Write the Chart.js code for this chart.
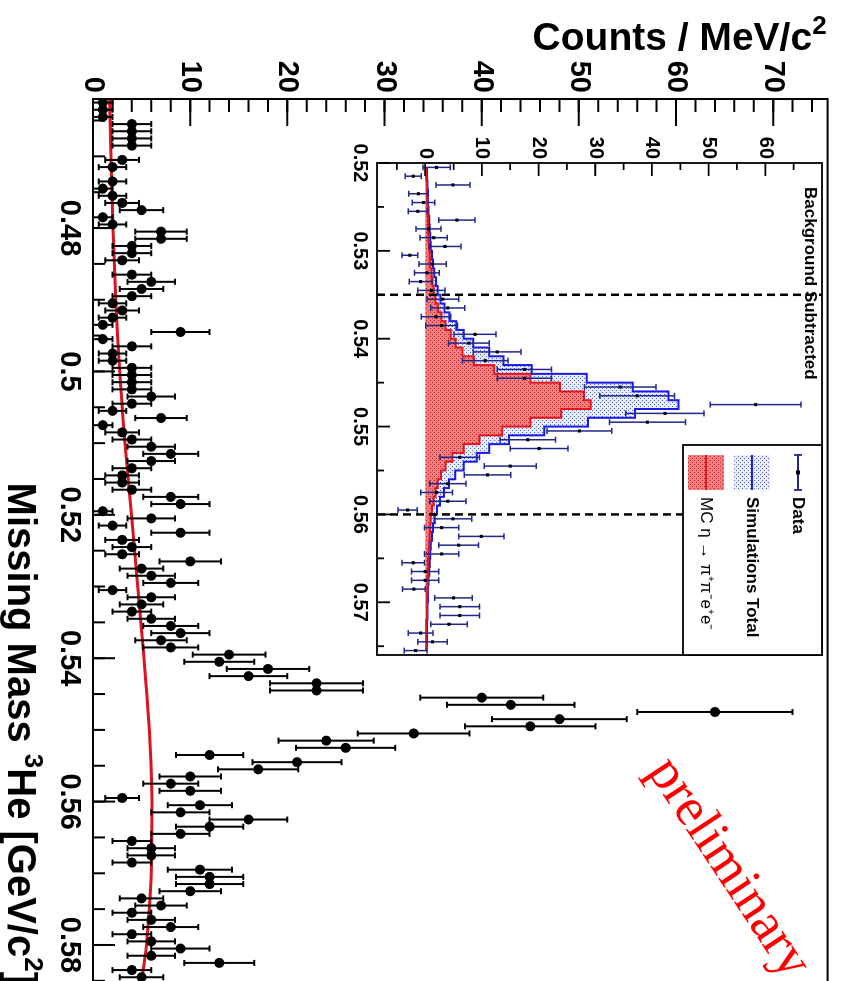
<!DOCTYPE html>
<html>
<head>
<meta charset="utf-8">
<script src="https://cdn.jsdelivr.net/npm/chart.js@4.4.0/dist/chart.umd.min.js"></script>
<style>
html, body { margin: 0; padding: 0; background: #fff; overflow: hidden; width: 851px; height: 981px; }
/* the ROOT plot is drawn upright and then turned a quarter clockwise */
#turn { position: absolute; left: 851px; top: 0; width: 1000px; height: 851px; transform-origin: 0 0; transform: rotate(90deg); }
#main { position: absolute; left: 0; top: 0; }
#inset { position: absolute; left: 100px; top: 0; }
</style>
</head>
<body>
<div id="turn">
  <canvas id="main" width="1000" height="851"></canvas>
  <canvas id="inset" width="580" height="520"></canvas>
</div>
<script>
// Main histogram, 1 MeV bins starting at 0.462 GeV (0 = empty bin, not drawn)
var binLow = 0.462;
var binWidth = 0.001;
var counts = [1, 1, 1,
  4, 4, 4, 4, 0, 3, 2, 0, 2, 1,
  2, 3, 5, 1, 2, 7, 7, 4, 4, 3,
  0, 4, 6, 5, 4, 2, 3, 2, 1, 9,
  1, 4, 2, 2, 4, 4, 4, 4, 6, 4,
  2, 7, 1, 3, 4, 6, 8, 6, 4, 3,
  3, 4, 8, 9, 1, 6, 2, 9, 3, 4,
  3, 10, 5, 6, 8, 2, 6, 5, 4, 6,
  8, 9, 7, 8, 14, 13, 18, 16, 23, 23,
  40, 43, 64, 48, 45, 33, 24, 26, 12, 21,
  17, 10, 8, 10, 3, 11, 9, 16, 12, 9,
  4, 6, 6, 4, 11, 12, 12, 10, 5, 7,
  4, 6, 8, 4, 6, 9, 6, 13, 4, 5];

// background fit (red curve)
var fitMass   = [0.462, 0.470, 0.480, 0.490, 0.500, 0.510, 0.520, 0.530, 0.540, 0.550, 0.560, 0.570, 0.575, 0.580, 0.586];
var fitCounts = [1.70,  1.85,  2.05,  2.35,  2.75,  3.30,  3.95,  4.60,  5.25,  5.80,  6.08,  6.00,  5.80,  5.50,  4.90];

var massTicks = [0.48, 0.50, 0.52, 0.54, 0.56, 0.58];
var massTickLabels = ["0.48", "0.5", "0.52", "0.54", "0.56", "0.58"];
var countTicks = [0, 10, 20, 30, 40, 50, 60, 70];

// Inset: background subtracted, 1 MeV bins starting at 0.520 GeV
var insetLow = 0.520;
var insetCounts = [2.0, -2.1, 4.9, -1.2, -0.3, -1.3, 5.6, 0.6, 1.5, 3.5,
  -2.7, 1.3, 0.3, -0.8, 1.1, 3.1, 4.0, 1.9, 2.9, 8.8,
  7.7, 12.7, 10.6, 17.5, 17.5, 34.4, 37.4, 58.3, 42.3, 39.2,
  27.2, 18.1, 20.1, 6.1, 15.0, 11.0, 4.0, 2.0, 4.0, -3.1,
  4.9, 2.9, 9.9, 5.9, 2.9, -2.1, 0.0, 0.0, -2.0, 5.0,
  6.1, 6.1, 4.2, -0.8, 1.3, -1.7];
var insetErrors = [2.4, 1.4, 3.0, 1.7, 2.0, 1.7, 3.2, 2.2, 2.4, 2.8,
  1.4, 2.4, 2.2, 2.0, 2.4, 2.8, 3.0, 2.6, 2.8, 3.7,
  3.6, 4.2, 4.0, 4.8, 4.8, 6.3, 6.6, 8.0, 6.9, 6.7,
  5.7, 4.9, 5.1, 3.5, 4.6, 4.1, 3.2, 2.8, 3.2, 1.7,
  3.3, 3.0, 4.0, 3.5, 3.0, 2.0, 2.4, 2.4, 2.0, 3.3,
  3.5, 3.5, 3.2, 2.2, 2.6, 2.0];
var insetSimTotal = [0.3, 0.3, 0.4, 0.5, 0.5, 0.6, 0.7, 0.8, 0.9, 1.0,
  1.2, 1.4, 1.6, 1.9, 2.2, 2.7, 3.4, 4.3, 5.5, 6.8,
  8.5, 11.3, 13.8, 18.8, 28.5, 36.6, 42.9, 44.7, 37.0, 28.7,
  21.0, 14.8, 11.3, 9.1, 6.8, 5.3, 4.2, 3.3, 2.6, 2.1,
  1.7, 1.4, 1.2, 1.0, 0.9, 0.8, 0.7, 0.6, 0.5, 0.5,
  0.4, 0.4, 0.3, 0.3, 0.3, 0.2];
var insetMC = [0.2, 0.2, 0.3, 0.3, 0.4, 0.4, 0.5, 0.5, 0.6, 0.7,
  0.8, 0.9, 1.1, 1.3, 1.5, 1.8, 2.3, 2.9, 3.6, 4.5,
  5.4, 6.6, 8.6, 12.2, 18.6, 23.8, 28.0, 29.2, 24.0, 18.6,
  13.6, 9.6, 6.8, 4.8, 3.6, 2.8, 2.2, 1.8, 1.5, 1.2,
  1.0, 0.9, 0.8, 0.7, 0.6, 0.5, 0.5, 0.4, 0.4, 0.3,
  0.3, 0.3, 0.2, 0.2, 0.2, 0.2];
var insetMassTicks = [0.52, 0.53, 0.54, 0.55, 0.56, 0.57];
var insetCountTicks = [0, 10, 20, 30, 40, 50, 60];
var cutLines = [0.535, 0.560];

var sans = "'Liberation Sans', Arial, sans-serif";
var fitRed = "#d9141e";

// --- points -------------------------------------------------------------
var dataPoints = [];
for (var i = 0; i < counts.length; i++) {
  if (counts[i] > 0) dataPoints.push({x: binLow + (i + 0.5) * binWidth, y: counts[i]});
}
var fitPoints = fitMass.map(function(m, k) { return {x: m, y: fitCounts[k]}; });

function insetPts(arr) {
  return arr.map(function(v, k) { return {x: insetLow + (k + 0.5) * binWidth, y: v}; });
}

function stepValues(from, to, step) {
  var out = [];
  for (var v = from; v <= to + 1e-9; v += step) out.push(+v.toFixed(4));
  return out;
}

// text made of runs, some of them raised as superscripts (ROOT #it{^{2}} style)
function drawRuns(c, runs, x, y, size, align) {
  var big = "bold " + size + "px " + sans, small = "bold " + Math.round(size * 0.66) + "px " + sans;
  var total = 0;
  runs.forEach(function(r) { c.font = r.sup ? small : big; total += c.measureText(r.t).width; });
  var pos = align === "right" ? x - total : x;
  c.textAlign = "left"; c.textBaseline = "alphabetic";
  runs.forEach(function(r) {
    c.font = r.sup ? small : big;
    c.fillText(r.t, pos, r.sup ? y - size * 0.42 : y);
    pos += c.measureText(r.t).width;
  });
}

// ROOT style ticks pointing into the frame
function innerTicks(chart, values, len, axis) {
  var c = chart.ctx, a = chart.chartArea;
  c.beginPath();
  values.forEach(function(v) {
    if (axis === "x") {
      var px = chart.scales.x.getPixelForValue(v);
      if (px < a.left - 0.5 || px > a.right + 0.5) return;
      c.moveTo(px, a.bottom); c.lineTo(px, a.bottom - len);
    } else {
      var py = chart.scales.y.getPixelForValue(v);
      if (py < a.top - 0.5 || py > a.bottom + 0.5) return;
      c.moveTo(a.left, py); c.lineTo(a.left + len, py);
    }
  });
  c.stroke();
}

function errorBars(chart, pts, errs, color, width, cap) {
  var c = chart.ctx, xs = chart.scales.x, ys = chart.scales.y;
  c.save();
  c.strokeStyle = color; c.lineWidth = width;
  pts.forEach(function(p, k) {
    var e = errs ? errs[k] : Math.sqrt(p.y);
    var px = xs.getPixelForValue(p.x);
    var y1 = ys.getPixelForValue(p.y - e), y2 = ys.getPixelForValue(p.y + e);
    c.beginPath();
    c.moveTo(px, y1); c.lineTo(px, y2);
    c.moveTo(px - cap, y1); c.lineTo(px + cap, y1);
    c.moveTo(px - cap, y2); c.lineTo(px + cap, y2);
    c.stroke();
  });
  c.restore();
}

function makePattern(base, dot) {
  var p = document.createElement("canvas");
  p.width = 4; p.height = 4;
  var g = p.getContext("2d");
  g.fillStyle = base; g.fillRect(0, 0, 4, 4);
  g.fillStyle = dot; g.fillRect(0, 0, 1, 1); g.fillRect(2, 2, 1, 1);
  return g.createPattern(p, "repeat");
}
var redPattern = makePattern("rgb(240,128,128)", "rgb(200,30,40)");
var bluePattern = makePattern("rgb(232,238,252)", "rgb(80,100,210)");

// --- main plot ----------------------------------------------------------
var mainDecor = {
  id: "mainDecor",
  beforeDatasetDraw: function(chart, args) {
    if (args.index === 0) errorBars(chart, dataPoints, null, "#000", 2, 3);
  },
  afterDraw: function(chart) {
    var c = chart.ctx, a = chart.chartArea;
    c.save();
    c.strokeStyle = "#000";
    c.lineWidth = 2;
    c.strokeRect(a.left, a.top, a.right - a.left, a.bottom - a.top);
    innerTicks(chart, massTicks, 22, "x");
    innerTicks(chart, stepValues(0.465, 0.585, 0.005), 12, "x");
    innerTicks(chart, countTicks, 27, "y");
    innerTicks(chart, stepValues(0, 74, 2), 13, "y");

    c.fillStyle = "#000";
    // y title, read bottom to top, ending at the top of the axis
    c.save();
    c.translate(50, a.top + 1);
    c.rotate(-Math.PI / 2);
    drawRuns(c, [{t: "Counts / MeV/c"}, {t: "2", sup: true}], 0, 0, 39, "right");
    c.restore();
    // x title, right aligned at the end of the axis
    drawRuns(c, [{t: "Missing Mass "}, {t: "3", sup: true}, {t: "He [GeV/c"}, {t: "2", sup: true}, {t: "]"}],
      a.right - 3, 843, 40, "right");

    // preliminary stamp
    c.save();
    c.translate(chart.scales.x.getPixelForValue(0.5693), chart.scales.y.getPixelForValue(65.4));
    c.rotate(-0.585);
    c.fillStyle = "#ff0000";
    c.font = "54px 'Liberation Serif', 'Times New Roman', serif";
    c.textAlign = "center"; c.textBaseline = "middle";
    c.fillText("preliminary", 0, 0);
    c.restore();
    c.restore();
  }
};

new Chart(document.getElementById("main"), {
  type: "scatter",
  data: {
    datasets: [
      { label: "Data", data: dataPoints, showLine: false, pointRadius: 5, pointHoverRadius: 5,
        pointBackgroundColor: "#000", pointBorderWidth: 0, order: 0 },
      { label: "Fit", data: fitPoints, showLine: true, borderColor: fitRed, borderWidth: 3,
        pointRadius: 0, cubicInterpolationMode: "monotone", order: 1 }
    ]
  },
  options: {
    responsive: false, animation: false, devicePixelRatio: 1,
    layout: { padding: { top: 8, right: 12, left: 0, bottom: 0 } },
    plugins: { legend: { display: false }, tooltip: { enabled: false } },
    scales: {
      x: {
        type: "linear", min: binLow, max: 0.586,
        afterFit: function(s) { s.height = 93; },
        afterBuildTicks: function(s) { s.ticks = massTicks.map(function(v) { return {value: v}; }); },
        grid: { display: false, drawTicks: false }, border: { display: false },
        ticks: { autoSkip: false, maxRotation: 0, padding: 7, color: "#000",
          font: { family: sans, size: 29, weight: "bold" },
          callback: function(v, k) { return massTickLabels[k]; } }
      },
      y: {
        type: "linear", min: 0, max: 75.6,
        afterFit: function(s) { s.width = 99; },
        afterBuildTicks: function(s) { s.ticks = countTicks.map(function(v) { return {value: v}; }); },
        grid: { display: false, drawTicks: false }, border: { display: false },
        ticks: { autoSkip: false, padding: 6, color: "#000",
          font: { family: sans, size: 29, weight: "bold" },
          callback: function(v) { return String(v); } }
      }
    }
  },
  plugins: [mainDecor]
});

// --- inset --------------------------------------------------------------
var insetDataPts = insetPts(insetCounts);

var insetDecor = {
  id: "insetDecor",
  beforeDatasetDraw: function(chart, args) {
    if (args.index === 0) errorBars(chart, insetDataPts, insetErrors, "#22288a", 1.5, 3);
  },
  afterDatasetsDraw: function(chart) {
    var c = chart.ctx, a = chart.chartArea;
    c.save();
    c.strokeStyle = "#000"; c.lineWidth = 2.5;
    c.setLineDash([8, 5]);
    cutLines.forEach(function(m) {
      var px = chart.scales.x.getPixelForValue(m);
      c.beginPath(); c.moveTo(px, a.bottom); c.lineTo(px, a.top); c.stroke();
    });
    c.restore();
  },
  afterDraw: function(chart) {
    var c = chart.ctx, a = chart.chartArea;
    c.save();
    c.strokeStyle = "#000"; c.lineWidth = 1.8;
    c.strokeRect(a.left, a.top, a.right - a.left, a.bottom - a.top);
    innerTicks(chart, insetMassTicks, 13, "x");
    innerTicks(chart, stepValues(0.525, 0.575, 0.01), 7, "x");
    innerTicks(chart, insetCountTicks, 13, "y");
    innerTicks(chart, stepValues(-5, 65, 10), 7, "y");

    c.fillStyle = "#000";
    c.font = "bold 17px " + sans;
    c.textAlign = "left"; c.textBaseline = "middle";
    c.fillText("Background Subtracted", a.left + 24, a.top + 12);

    // legend box in the top right corner
    var w = 210, h = 139, lx = a.right - w, ly = a.top;
    c.fillStyle = "#fff";
    c.fillRect(lx, ly, w, h);
    c.lineWidth = 1.8;
    c.strokeRect(lx, ly, w, h);
    // Data
    c.strokeStyle = "#22288a"; c.lineWidth = 1.8;
    c.beginPath();
    c.moveTo(lx + 10, ly + 24); c.lineTo(lx + 45, ly + 24);
    c.moveTo(lx + 10, ly + 20); c.lineTo(lx + 10, ly + 28);
    c.moveTo(lx + 45, ly + 20); c.lineTo(lx + 45, ly + 28);
    c.stroke();
    c.fillStyle = "#000";
    c.fillRect(lx + 25.5, ly + 22, 4, 4);
    // Simulations total
    c.fillStyle = bluePattern;
    c.fillRect(lx + 10, ly + 52, 35, 36);
    c.strokeStyle = "#1a1ae6"; c.lineWidth = 2;
    c.beginPath(); c.moveTo(lx + 10, ly + 70); c.lineTo(lx + 45, ly + 70); c.stroke();
    // MC
    c.fillStyle = redPattern;
    c.fillRect(lx + 10, ly + 98, 35, 36);
    c.strokeStyle = "#e3161c";
    c.beginPath(); c.moveTo(lx + 10, ly + 116); c.lineTo(lx + 45, ly + 116); c.stroke();

    c.fillStyle = "#000";
    c.textAlign = "left"; c.textBaseline = "middle";
    c.font = "bold 17px " + sans;
    c.fillText("Data", lx + 52, ly + 24);
    c.fillText("Simulations Total", lx + 52, ly + 70);
    c.font = "17px " + sans;
    c.fillText("MC \u03B7 \u2192 \u03C0\u207A\u03C0\u207Be\u207Ae\u207B", lx + 52, ly + 116);
    c.restore();
  }
};

new Chart(document.getElementById("inset"), {
  type: "scatter",
  data: {
    datasets: [
      { label: "Data", data: insetDataPts, showLine: false, pointStyle: "rect", pointRadius: 2.2,
        pointHoverRadius: 2.2, pointBackgroundColor: "#000", pointBorderWidth: 0, order: 0 },
      { label: "MC", data: insetPts(insetMC), showLine: true, stepped: "middle", fill: "origin",
        backgroundColor: redPattern, borderColor: "#e3161c", borderWidth: 2, pointRadius: 0, order: 1 },
      { label: "Simulations Total", data: insetPts(insetSimTotal), showLine: true, stepped: "middle", fill: "origin",
        backgroundColor: bluePattern, borderColor: "#1a1ae6", borderWidth: 2, pointRadius: 0, order: 2 }
    ]
  },
  options: {
    responsive: false, animation: false, devicePixelRatio: 1,
    layout: { padding: { top: 29, right: 25, left: 0, bottom: 0 } },
    plugins: { legend: { display: false }, tooltip: { enabled: false } },
    scales: {
      x: {
        type: "linear", min: insetLow, max: 0.576,
        afterFit: function(s) { s.height = 46; },
        afterBuildTicks: function(s) { s.ticks = insetMassTicks.map(function(v) { return {value: v}; }); },
        grid: { display: false, drawTicks: false }, border: { display: false },
        ticks: { autoSkip: false, maxRotation: 0, padding: 5, color: "#000",
          font: { family: sans, size: 20, weight: "bold" },
          callback: function(v) { return v.toFixed(2); } }
      },
      y: {
        type: "linear", min: -8.5, max: 70,
        afterFit: function(s) { s.width = 63; },
        afterBuildTicks: function(s) { s.ticks = insetCountTicks.map(function(v) { return {value: v}; }); },
        grid: { display: false, drawTicks: false }, border: { display: false },
        ticks: { autoSkip: false, padding: 4, color: "#000",
          font: { family: sans, size: 20, weight: "bold" },
          callback: function(v) { return String(v); } }
      }
    }
  },
  plugins: [insetDecor]
});
</script>
</body>
</html>
